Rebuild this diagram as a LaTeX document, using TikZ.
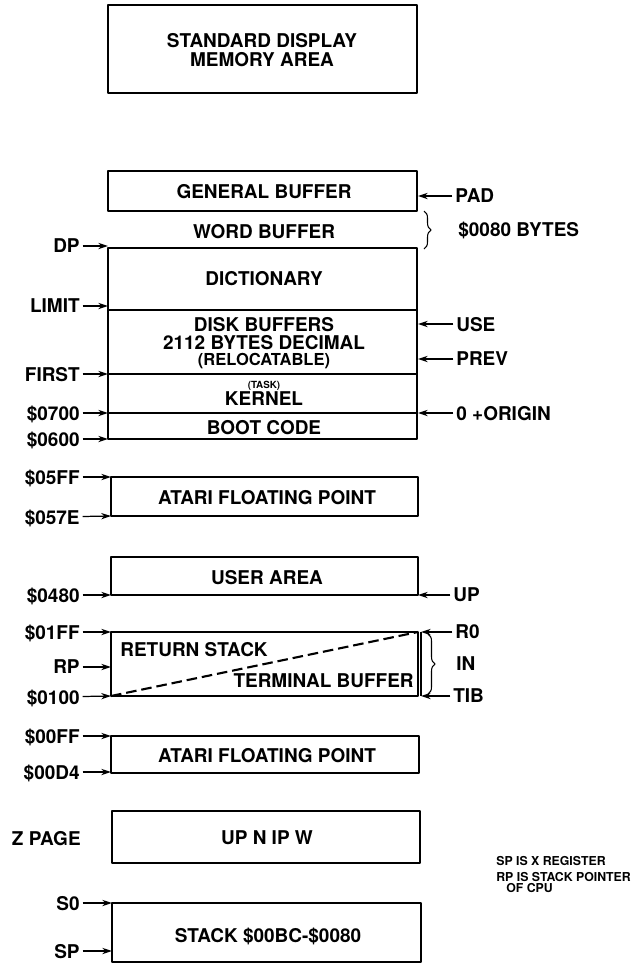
\documentclass[tikz,border=0pt]{standalone}
\usepackage{fontspec}
\setmainfont{TeX Gyre Heros}
\usetikzlibrary{arrows.meta,decorations.pathreplacing}
\begin{document}
\begin{tikzpicture}[x=0.02cm, y=-0.02cm, >={Stealth[length=5.6pt,width=3.6pt]}, line join=round,
    membox/.style={line width=1pt},
    memtxt/.style={font=\fontsize{10.8}{13}\selectfont\bfseries, inner sep=0pt, text depth=0pt},
    smalltxt/.style={font=\fontsize{9.4}{11}\selectfont\bfseries, inner sep=0pt, text depth=0pt},
    tinytxt/.style={font=\fontsize{5.6}{7}\selectfont\bfseries, inner sep=0pt},
    notetxt/.style={font=\fontsize{7}{8}\selectfont\bfseries, inner sep=0pt, anchor=west},
    lname/.style={memtxt, anchor=east},
    rname/.style={memtxt, anchor=west},
    ptr/.style={->, line width=0.7pt, shorten <=1.5pt},
    curlybr/.style={decorate, decoration={brace, amplitude=4pt}, line width=0.6pt}]
  \useasboundingbox (0,0) rectangle (633,964);

  % 1. Standard display memory area (top)
  \draw[membox] (108,5) rectangle (417,93);
  \node[memtxt, font=\fontsize{10.8}{11.2}\selectfont\bfseries, align=center] (sdm) at (262,50) {STANDARD DISPLAY\\MEMORY AREA};

  % 2. General buffer, word buffer and the main block
  \draw[membox] (108,171) rectangle (417,211);
  \node[memtxt] (genbuf) at (264,191) {GENERAL BUFFER};
  \node[memtxt] (wordbuf) at (264,231) {WORD BUFFER};
  \draw[curlybr] (424,211) -- (424,249);
  \node[rname] (bytes) at (458,229) {\$0080 BYTES};

  \draw[membox] (108,248) rectangle (417,439);
  \draw[membox] (108,310) -- (417,310);
  \draw[membox] (108,374) -- (417,374);
  \draw[membox] (108,413) -- (417,413);
  \node[memtxt] (dict) at (264,278) {DICTIONARY};
  \node[memtxt] (disk) at (264,324) {DISK BUFFERS};
  \node[memtxt] (dec) at (264,342) {2112 BYTES DECIMAL};
  \node[smalltxt] (reloc) at (264,359) {(RELOCATABLE)};
  \node[tinytxt] (task) at (264,386) {(TASK)};
  \node[memtxt] (kernel) at (264,399) {KERNEL};
  \node[memtxt] (boot) at (264,427) {BOOT CODE};

  % pointers on the left of the main block
  \node[lname] (dp) at (80,246) {DP};
  \coordinate (dpT) at (108,246);
  \draw[ptr] (dp) -- (dpT);
  \node[lname] (limit) at (80,306) {LIMIT};
  \coordinate (limitT) at (108,306);
  \draw[ptr] (limit) -- (limitT);
  \node[lname] (first) at (80,374) {FIRST};
  \coordinate (firstT) at (108,374);
  \draw[ptr] (first) -- (firstT);
  \node[lname] (a0700) at (80,413) {\$0700};
  \coordinate (a0700T) at (108,413);
  \draw[ptr] (a0700) -- (a0700T);
  \node[lname] (a0600) at (80,439) {\$0600};
  \coordinate (a0600T) at (108,439);
  \draw[ptr] (a0600) -- (a0600T);

  % pointers on the right of the main block
  \node[rname] (pad) at (455,196) {PAD};
  \coordinate (padT) at (418,196);
  \draw[ptr] (pad) -- (padT);
  \node[rname] (use) at (456,324) {USE};
  \coordinate (useT) at (418,324);
  \draw[ptr] (use) -- (useT);
  \node[rname] (prev) at (456,359) {PREV};
  \coordinate (prevT) at (418,359);
  \draw[ptr] (prev) -- (prevT);
  \node[rname] (origin) at (456,413) {0 +ORIGIN};
  \coordinate (originT) at (418,413);
  \draw[ptr] (origin) -- (originT);

  % 3. Atari floating point (upper)
  \draw[membox] (111,477) rectangle (418,516);
  \node[memtxt] (fp1) at (267,497) {ATARI FLOATING POINT};
  \node[lname] (a05FF) at (80,477) {\$05FF};
  \coordinate (a05FFT) at (111,477);
  \draw[ptr] (a05FF) -- (a05FFT);
  \node[lname] (a057E) at (80,517) {\$057E};
  \coordinate (a057ET) at (111,516);
  \draw[ptr] (a057E) -- (a057ET);

  % 4. User area
  \draw[membox] (111,557) rectangle (418,595);
  \node[memtxt] (user) at (267,577) {USER AREA};
  \node[lname] (a0480) at (80,595) {\$0480};
  \coordinate (a0480T) at (111,595);
  \draw[ptr] (a0480) -- (a0480T);
  \node[rname] (up) at (453,595) {UP};
  \coordinate (upT) at (418,595);
  \draw[ptr] (up) -- (upT);

  % 5. Return stack and terminal buffer
  \draw[membox] (111,632) rectangle (418,696);
  \draw[line width=0.6pt] (421,632) -- (421,696);
  \coordinate (rsBL) at (111,696);
  \coordinate (rsTR) at (418,632);
  \draw[line width=1.2pt, dash pattern=on 6pt off 2.8pt] (rsBL) -- (rsTR);
  \node[memtxt, anchor=west] (retstk) at (120,649) {RETURN STACK};
  \node[memtxt, anchor=east] (termbuf) at (414,681) {TERMINAL BUFFER};
  \draw[curlybr] (428,634) -- (428,694);
  \node[rname] (in) at (456,664) {IN};
  \node[lname] (a01FF) at (80,632) {\$01FF};
  \coordinate (a01FFT) at (111,632);
  \draw[ptr] (a01FF) -- (a01FFT);
  \node[lname] (rp) at (80,667) {RP};
  \coordinate (rpT) at (111,667);
  \draw[ptr] (rp) -- (rpT);
  \node[lname] (a0100) at (80,697) {\$0100};
  \coordinate (a0100T) at (111,696);
  \draw[ptr] (a0100) -- (a0100T);
  \node[rname] (r0) at (455,632) {R0};
  \coordinate (r0T) at (421,632);
  \draw[ptr] (r0) -- (r0T);
  \node[rname] (tib) at (453,696) {TIB};
  \coordinate (tibT) at (421,696);
  \draw[ptr] (tib) -- (tibT);

  % 6. Atari floating point (zero page)
  \draw[membox] (111,736) rectangle (419,773);
  \node[memtxt] (fp2) at (267,755) {ATARI FLOATING POINT};
  \node[lname] (a00FF) at (80,736) {\$00FF};
  \coordinate (a00FFT) at (111,736);
  \draw[ptr] (a00FF) -- (a00FFT);
  \node[lname] (a00D4) at (80,772) {\$00D4};
  \coordinate (a00D4T) at (111,772);
  \draw[ptr] (a00D4) -- (a00D4T);

  % 7. Z page
  \draw[membox] (112,811) rectangle (420,863);
  \node[memtxt] (zvars) at (267,838) {UP N IP W};
  \node[lname] (zpage) at (81,838) {Z PAGE};

  % 8. Stack and notes
  \draw[membox] (112,903) rectangle (421,962);
  \node[memtxt] (stack) at (268,935) {STACK \$00BC-\$0080};
  \node[lname] (s0) at (80,903) {S0};
  \coordinate (s0T) at (112,903);
  \draw[ptr] (s0) -- (s0T);
  \node[lname] (sp) at (80,951) {SP};
  \coordinate (spT) at (112,951);
  \draw[ptr] (sp) -- (spT);

  \node[notetxt] (note1) at (496,861) {SP IS X REGISTER};
  \node[notetxt] (note2) at (496,877) {RP IS STACK POINTER};
  \node[notetxt] (note3) at (506,888) {OF CPU};
\end{tikzpicture}
\end{document}
